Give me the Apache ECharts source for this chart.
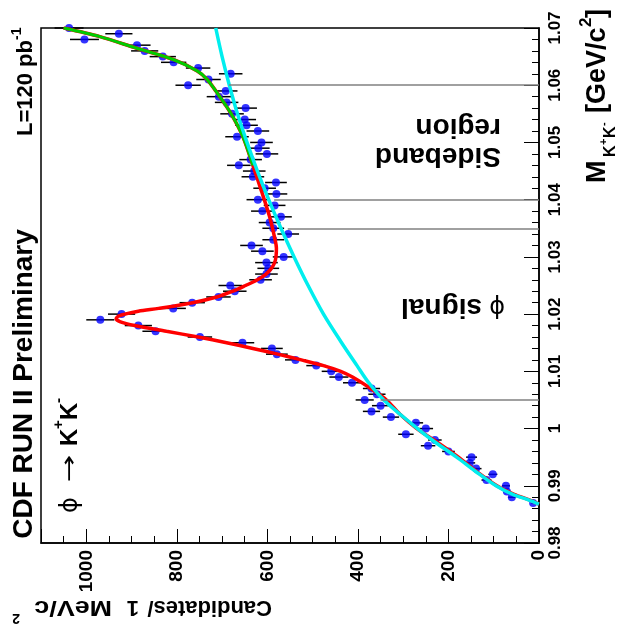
<!DOCTYPE html>
<html>
<head>
<meta charset="utf-8">
<script src="https://cdn.jsdelivr.net/npm/echarts@6/dist/echarts.min.js"></script>
<style>
  html, body { margin: 0; padding: 0; background: #fff; }
  #chart { width: 617px; height: 633px; }
</style>
</head>
<body>
<div id="chart"></div>
<script>
// bin centres, M(K+K-) in GeV/c^2
const masses = [
  0.987, 0.988, 0.989, 0.990, 0.991, 0.992, 0.993, 0.994, 0.995, 0.996,
  0.997, 0.998, 0.999, 1.000, 1.001, 1.002, 1.003, 1.004, 1.005, 1.006,
  1.007, 1.008, 1.009, 1.010, 1.011, 1.012, 1.013, 1.014, 1.015, 1.016,
  1.017, 1.018, 1.019, 1.020, 1.021, 1.022, 1.023, 1.024, 1.025, 1.026,
  1.027, 1.028, 1.029, 1.030, 1.031, 1.032, 1.033, 1.034, 1.035, 1.036,
  1.037, 1.038, 1.039, 1.040, 1.041, 1.042, 1.043, 1.044, 1.045, 1.046,
  1.047, 1.048, 1.049, 1.050, 1.051, 1.052, 1.053, 1.054, 1.055, 1.056,
  1.057, 1.058, 1.059, 1.060, 1.061, 1.062, 1.063, 1.064, 1.065, 1.066,
  1.067, 1.068, 1.069, 1.070
];
// candidates per 1 MeV bin
const counts = [
  13, 60, 71, 73, 116, 102, 139, 153, 149, 200,
  245, 230, 294, 250, 272, 327, 370, 350, 385, 358,
  370, 413, 442, 459, 492, 538, 579, 590, 655, 749,
  847, 885, 969, 922, 808, 766, 708, 672, 682, 615,
  602, 598, 602, 564, 611, 635, 587, 554, 587, 595,
  570, 611, 584, 621, 580, 606, 581, 632, 629, 663,
  637, 601, 620, 613, 667, 621, 646, 650, 678, 648,
  690, 707, 692, 775, 730, 681, 753, 807, 831, 871,
  888, 1004, 928, 1038
];
const errors = [
  4, 8, 8, 9, 11, 10, 12, 12, 12, 14,
  16, 15, 17, 16, 16, 18, 19, 19, 20, 19,
  19, 20, 21, 21, 22, 23, 24, 24, 26, 27,
  29, 30, 31, 30, 28, 28, 27, 26, 26, 25,
  25, 24, 25, 24, 25, 25, 24, 24, 24, 24,
  24, 25, 24, 25, 24, 25, 24, 25, 25, 26,
  25, 25, 25, 25, 26, 25, 25, 25, 26, 25,
  26, 27, 26, 28, 27, 26, 27, 28, 29, 30,
  30, 32, 30, 32
];

// fit curves: [mass, candidates]
const totalFit = [
  [0.9868, 0], [0.9875, 20], [0.9885, 55], [0.990, 93], [0.9925, 138],
  [0.995, 178], [0.998, 232], [1.000, 270], [1.0025, 307], [1.005, 337],
  [1.007, 372], [1.009, 412], [1.010, 438], [1.011, 476], [1.012, 525],
  [1.013, 577], [1.014, 632], [1.015, 690], [1.016, 753], [1.017, 823],
  [1.018, 893], [1.0187, 926], [1.0192, 934], [1.0197, 928], [1.0205, 885],
  [1.021, 840], [1.022, 765], [1.023, 712], [1.024, 676], [1.025, 648],
  [1.026, 622], [1.027, 603], [1.028, 591], [1.029, 584], [1.030, 581],
  [1.0315, 580], [1.033, 583], [1.037, 595], [1.0415, 613], [1.046, 632],
  [1.051, 654], [1.055, 680], [1.058, 705], [1.061, 733], [1.0625, 755],
  [1.0645, 808], [1.0665, 890], [1.0685, 970], [1.070, 1050]
];
const sidebandFit = [
  [1.046, 632], [1.051, 654], [1.055, 680], [1.058, 705], [1.061, 733],
  [1.0625, 755], [1.0645, 808], [1.0665, 890], [1.0685, 970], [1.070, 1050]
];
const background = [
  [0.9868, 0], [0.9875, 22], [0.9885, 58], [0.990, 95], [0.9925, 140],
  [0.995, 182], [0.998, 236], [1.001, 284], [1.005, 343], [1.008, 376],
  [1.011, 402], [1.015, 436], [1.020, 476], [1.025, 510], [1.030, 541],
  [1.035, 570], [1.040, 597], [1.045, 622], [1.050, 645], [1.055, 666],
  [1.060, 684], [1.065, 700], [1.070, 714]
];
// region boundaries: [mass, candidates the line reaches]
const regionLines = [[1.005, 350], [1.035, 555], [1.040, 585], [1.060, 685]];

const FONT = '"Liberation Sans", Arial, sans-serif';
const UP = Math.PI / 2;
const FLIP = Math.PI;

function txt(text, x, y, rotation, size, extra) {
  const o = extra || {};
  return {
    type: 'text', x: x, y: y, rotation: rotation,
    scaleX: o.scaleX || 1, silent: true,
    style: {
      text: text,
      fill: '#000',
      fontSize: size,
      fontWeight: o.weight || 'bold',
      fontFamily: o.family || FONT,
      textAlign: o.align || 'center',
      align: o.align || 'center',
      textVerticalAlign: 'middle',
      verticalAlign: 'middle'
    }
  };
}

const chart = echarts.init(document.getElementById('chart'), null, { renderer: 'canvas' });

const axisFont = { fontWeight: 'bold', fontFamily: FONT, color: '#000' };

chart.setOption({
  animation: false,
  backgroundColor: '#fff',
  grid: { left: 41, right: 78, top: 28, bottom: 90, show: true, borderColor: '#000', borderWidth: 1.5 },
  xAxis: [
    {
      type: 'value', inverse: true, min: 0, max: 1100, interval: 200, position: 'bottom',
      axisLine: { show: true, onZero: false, lineStyle: { color: '#000', width: 1.5 } },
      axisTick: { show: true, inside: true, length: 14, lineStyle: { color: '#000', width: 1 } },
      axisLabel: Object.assign({ rotate: 90, margin: 7, fontSize: 19,
        formatter: v => (v > 1000 ? '' : String(v)) }, axisFont),
      splitLine: { show: false }
    },
    {
      type: 'value', inverse: true, min: 0, max: 1100, interval: 50, position: 'bottom',
      axisLine: { show: false },
      axisTick: { show: true, inside: true, length: 7, lineStyle: { color: '#000', width: 1 } },
      axisLabel: { show: false },
      splitLine: { show: false }
    }
  ],
  yAxis: {
    type: 'value', min: 0.98, max: 1.07, interval: 0.01, position: 'right',
    axisLine: { show: true, onZero: false, lineStyle: { color: '#000', width: 1.5 } },
    axisTick: { show: true, inside: true, length: 15, lineStyle: { color: '#000', width: 1 } },
    minorTick: { show: true, splitNumber: 5, length: 7, lineStyle: { color: '#000', width: 1 } },
    axisLabel: Object.assign({ rotate: 90, margin: 8, fontSize: 17,
      formatter: v => String(+v.toFixed(2)) }, axisFont),
    splitLine: { show: false },
    minorSplitLine: { show: false }
  },
  series: [
    {
      type: 'custom',
      name: 'errors',
      silent: true,
      data: masses.map((m, i) => [counts[i] - errors[i], counts[i] + errors[i], m]),
      encode: { x: [0, 1], y: 2 },
      renderItem: (params, api) => {
        const a = api.coord([api.value(0), api.value(2)]);
        const b = api.coord([api.value(1), api.value(2)]);
        return {
          type: 'line',
          shape: { x1: a[0], y1: a[1], x2: b[0], y2: b[1] },
          style: { stroke: '#000', lineWidth: 1.5 }
        };
      }
    },
    {
      type: 'scatter',
      name: 'data',
      symbol: 'circle',
      symbolSize: 8,
      itemStyle: { color: '#0000ff' },
      data: masses.map((m, i) => [counts[i], m])
    },
    {
      type: 'line',
      name: 'total fit',
      showSymbol: false,
      smooth: 0.3,
      lineStyle: { color: '#ff0000', width: 3.5 },
      data: totalFit.map(p => [p[1], p[0]])
    },
    {
      type: 'line',
      name: 'sideband fit',
      showSymbol: false,
      smooth: 0.3,
      lineStyle: { color: '#00cc00', width: 3 },
      data: sidebandFit.map(p => [p[1], p[0]])
    },
    {
      type: 'line',
      name: 'background',
      showSymbol: false,
      smooth: 0.3,
      lineStyle: { color: '#00eeee', width: 3.5 },
      data: background.map(p => [p[1], p[0]]),
      markLine: {
        silent: true,
        symbol: ['none', 'none'],
        label: { show: false },
        lineStyle: { color: '#808080', width: 1.5, type: 'solid' },
        data: regionLines.map(r => [{ coord: [r[1], r[0]] }, { coord: [0, r[0]] }])
      }
    }
  ],
  graphic: [
    txt('CDF RUN II Preliminary', 24, 384, UP, 28),
    txt('L=120 pb', 26, 136, UP, 22, { align: 'left' }),
    txt('-1', 17, 40, UP, 14, { align: 'left' }),
    // phi -> K+K-
    txt('\u03d5', 71, 513, UP, 24, { align: 'left', weight: 'normal', family: '"DejaVu Sans"' }),
    txt('\u2192', 70, 482, UP, 22, { align: 'left', weight: 'normal', family: '"DejaVu Sans"', scaleX: 1.5 }),
    txt('K', 70, 446, UP, 24, { align: 'left' }),
    txt('+', 59, 429, UP, 15, { align: 'left' }),
    txt('K', 70, 420, UP, 24, { align: 'left' }),
    txt('-', 59, 403, UP, 15, { align: 'left' }),
    // region labels (upside down)
    txt('\u03d5', 505, 306, FLIP, 24, { align: 'left', weight: 'normal', family: '"DejaVu Sans"' }),
    txt('signal', 482, 307, FLIP, 28, { align: 'left' }),
    txt('Sideband', 501, 156, FLIP, 28, { align: 'left' }),
    txt('region', 501, 127, FLIP, 28, { align: 'left' }),
    // y-axis title (upside down)
    txt('Candidates/', 272, 607, FLIP, 22, { align: 'left' }),
    txt('1', 133, 607, FLIP, 22),
    txt('MeV/c', 112, 607, FLIP, 22, { align: 'left', scaleX: 1.22 }),
    txt('2', 16, 618, FLIP, 14),
    // x-axis title
    txt('M', 598, 183, UP, 27, { align: 'left' }),
    txt('K', 611, 157, UP, 16, { align: 'left' }),
    txt('+', 604, 145, UP, 11, { align: 'left' }),
    txt('K', 611, 138, UP, 16, { align: 'left' }),
    txt('-', 604, 126, UP, 11, { align: 'left' }),
    txt('[GeV/c', 598, 113, UP, 27, { align: 'left' }),
    txt('2', 586, 27, UP, 17, { align: 'left' }),
    txt(']', 598, 18, UP, 27, { align: 'left' })
  ]
});
</script>
</body>
</html>
